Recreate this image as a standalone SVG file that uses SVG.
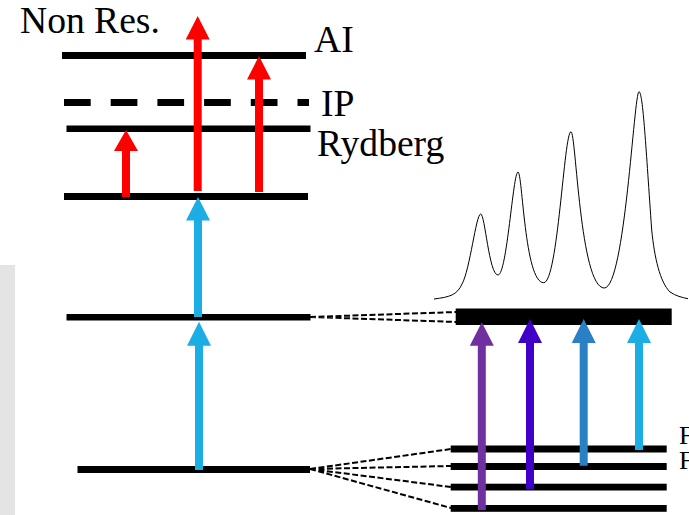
<svg xmlns="http://www.w3.org/2000/svg" width="689" height="515" viewBox="0 0 689 515">
<style>
text{font-family:"Liberation Serif","Times New Roman",serif;fill:#000}
.t{font-size:37.6px}
.s{font-size:26px}
.lvl{fill:#000}
.d{stroke:#000;stroke-width:2;stroke-dasharray:6 2.5;fill:none}
</style>
<rect width="689" height="515" fill="#fff"/>
<rect id="panel" x="0" y="265" width="15" height="250" fill="#e4e4e4"/>
<g id="levels">
<rect class="lvl" x="62" y="52" width="244" height="7"/>
<path d="M64 102.500H309" stroke="#000" stroke-width="7" stroke-dasharray="26.700 20" fill="none"/>
<rect class="lvl" x="66.500" y="125.500" width="244" height="6.500"/>
<rect class="lvl" x="64" y="193" width="244" height="7"/>
<rect class="lvl" x="66.500" y="314" width="244" height="6.500"/>
<rect class="lvl" x="77.500" y="466" width="232.500" height="7"/>
<rect class="lvl" x="455.700" y="308.500" width="216" height="16.500"/>
<rect class="lvl" x="450.700" y="445.500" width="216" height="7"/>
<rect class="lvl" x="450.700" y="463" width="216" height="7"/>
<rect class="lvl" x="450.700" y="483.700" width="216" height="6.800"/>
<rect class="lvl" x="450.700" y="505" width="216" height="6.800"/>
</g>
<g id="connectors">
<path class="d" d="M310 317L456 312M310 317L456 322M310 469L451 449M310 469L451 466M310 469L451 487M310 469L451 508"/>
</g>
<g id="arrows">
<path fill="#ff0000" d="M193.700 191V39.500H185.700L197.700 16L209.700 39.500H201.700V191Z"/>
<path fill="#ff0000" d="M255 192V79.500H247L259 56L271 79.500H263V192Z"/>
<path fill="#ff0000" d="M122 197V151H114L126 130L138 151H130V197Z"/>
<path fill="#1cade4" d="M194 317V220.500H186L198 197L210 220.500H202V317Z"/>
<path fill="#1cade4" d="M195 470V345.700H187L199 321.700L211 345.700H203V470Z"/>
<path fill="#7030a0" d="M477.800 510V345.700H469.800L481.800 322.300L493.800 345.700H485.800V510Z"/>
<path fill="#4000c8" d="M526 489V343H518L530 319L542 343H534V489Z"/>
<path fill="#2a80c4" d="M579.700 465.700V343H571.700L583.700 319L595.700 343H587.700V465.700Z"/>
<path fill="#1cade4" d="M635 450V343H627L639 319L651 343H643V450Z"/>
</g>
<path id="spectrum" fill="none" stroke="#000" stroke-width="1" d="M434 299C450 297 457 295 462 284C470 270 476 214 480.700 214C485 214 489 275 498 275C507 275 513 172 518 172C522.500 172 524.500 282.700 543.700 282.700C558 282.700 564 131.700 571 131.700C576 131.700 580 288 604.300 288C625 288 634 91.700 639 91.700C643 91.700 646 150 651.700 230C654.500 258 660 282 670 292C676 296 682 297.500 688 298.700"/>
<g id="labels">
<text id="label-nonres" class="t" x="20" y="33">Non Res.</text>
<text id="label-ai" class="t" x="314" y="52">AI</text>
<text id="label-ip" class="t" x="321" y="116">IP</text>
<text id="label-rydberg" class="t" x="317" y="156">Rydberg</text>
<text id="label-f1" class="s" x="679" y="443.500">F</text>
<text id="label-f2" class="s" x="679" y="469">F</text>
</g>
</svg>
